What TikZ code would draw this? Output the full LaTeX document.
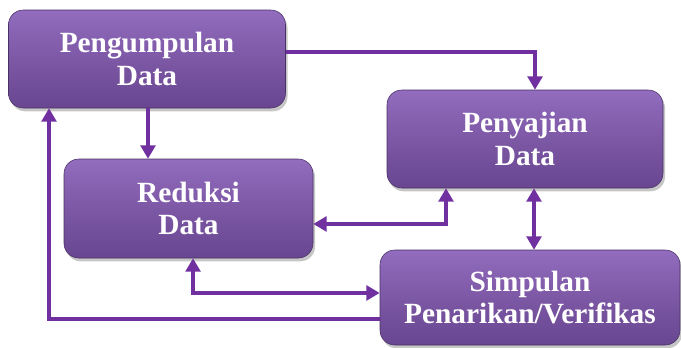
\documentclass[tikz,border=0pt]{standalone}
\usepackage{fontspec}
\setmainfont{Liberation Serif}
\usetikzlibrary{arrows.meta,shadows}
\definecolor{lineviolet}{RGB}{112,48,160}
\definecolor{boxtop}{RGB}{146,108,190}
\definecolor{boxmid}{RGB}{125,88,165}
\definecolor{boxbot}{RGB}{104,70,144}
\begin{document}
\begin{tikzpicture}[x=0.75pt,y=0.75pt,yscale=-1,
  box/.style={rounded corners=11pt,top color=boxtop,bottom color=boxbot,middle color=boxmid,
    draw=boxbot!70!black,line width=0.4pt,
    drop shadow={shadow xshift=1.5pt,shadow yshift=-2.5pt,opacity=0.45},
    inner sep=0pt,align=center,text=white,font=\rmfamily\bfseries\fontsize{22}{24.5}\selectfont},
  flow/.style={draw=lineviolet,line width=2.6pt,-{Triangle[width=11pt,length=10pt]}},
  both/.style={flow,{Triangle[width=11pt,length=10pt]}-{Triangle[width=11pt,length=10pt]}}]
%set diagram size 681 x 347
\useasboundingbox (0,0) rectangle (681,347);

%Shape: Rounded Rect
\node [box,minimum width=207.75pt,minimum height=73.5pt] (peng) at (147,59) {Pengumpulan\\Data};
\node [box,minimum width=207pt,minimum height=73.5pt] (saji) at (525,139) {Penyajian\\Data};
\node [box,minimum width=186.75pt,minimum height=74.25pt] (redu) at (188.5,208.5) {Reduksi\\Data};
\node [box,minimum width=225pt,minimum height=71.25pt] (simp) at (530,297.5) {Simpulan\\Penarikan/Verifikas};

%Connectors (y axis flipped, so shifts upward are negative)
\draw [flow] ([yshift=-5.25pt]peng.east) -| ([xshift=7.5pt]saji.north) ;
\draw [flow] ([xshift=0.75pt]peng.south) -- ([xshift=0.75pt]peng.south |- redu.north) ;
\draw [both] ([yshift=11.6pt]redu.east) -| ([xshift=-59.25pt]saji.south) ;
\draw [both] ([xshift=6.75pt]saji.south) -- ([xshift=6.75pt]saji.south |- simp.north) ;
\draw [both] ([xshift=3.4pt]redu.south) |- ([yshift=-3.4pt]simp.west) ;
\draw [flow] ([yshift=16.1pt]simp.west) -| ([xshift=-73.5pt]peng.south) ;

\end{tikzpicture}
\end{document}
